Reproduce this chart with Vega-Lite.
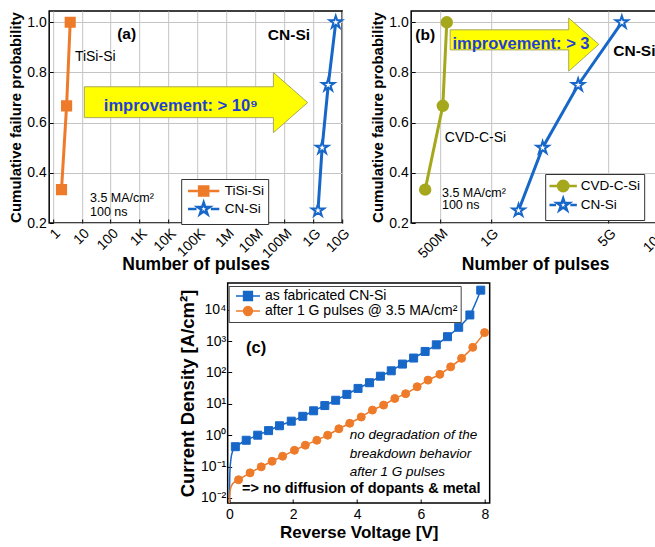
{
  "$schema": "https://vega.github.io/schema/vega-lite/v6.json",
  "background": "white",
  "padding": {"left": 7, "top": 10, "right": 2, "bottom": 2},
  "config": {
    "font": "Liberation Sans",
    "view": {"stroke": "black", "strokeWidth": 1.5},
    "axis": {"labelFont": "Liberation Sans", "labelFontSize": 14, "labelColor": "black", "titleFont": "Liberation Sans", "titleFontWeight": "bold", "titleColor": "black", "domain": false, "tickColor": "black", "tickSize": -4, "tickWidth": 1, "labelPadding": 7, "titlePadding": 3, "gridColor": "#c4c4c4", "gridWidth": 1, "gridOpacity": 1, "labelFlush": false, "labelOverlap": false},
    "legend": {"labelFont": "Liberation Sans", "labelColor": "black", "labelLimit": 400}
  },
  "datasets": {
    "a_pts": [
      {"series": "TiSi-Si", "pulses": 2, "prob": 0.333},
      {"series": "TiSi-Si", "pulses": 3, "prob": 0.667},
      {"series": "TiSi-Si", "pulses": 4, "prob": 1.0},
      {"series": "CN-Si", "pulses": 1.46e9, "prob": 0.25},
      {"series": "CN-Si", "pulses": 2.03e9, "prob": 0.5},
      {"series": "CN-Si", "pulses": 3.3e9, "prob": 0.75},
      {"series": "CN-Si", "pulses": 6.0e9, "prob": 1.0}
    ],
    "b_pts": [
      {"series": "CVD-C-Si", "pulses": 4.07e8, "prob": 0.333},
      {"series": "CVD-C-Si", "pulses": 5.18e8, "prob": 0.667},
      {"series": "CVD-C-Si", "pulses": 5.47e8, "prob": 1.0},
      {"series": "CN-Si", "pulses": 1.46e9, "prob": 0.25},
      {"series": "CN-Si", "pulses": 2.03e9, "prob": 0.5},
      {"series": "CN-Si", "pulses": 3.3e9, "prob": 0.75},
      {"series": "CN-Si", "pulses": 6.0e9, "prob": 1.0}
    ],
    "a_arrow": [
      {"pulses": 12.3, "prob": 0.62, "hi": 0.743},
      {"pulses": 4.2e7, "prob": 0.62, "hi": 0.743},
      {"pulses": 4.2e7, "prob": 0.56, "hi": 0.80},
      {"pulses": 6.4e8, "prob": 0.68, "hi": 0.68}
    ],
    "b_arrow": [
      {"pulses": 5.73e8, "prob": 0.89, "hi": 0.97},
      {"pulses": 2.9e9, "prob": 0.89, "hi": 0.97},
      {"pulses": 2.9e9, "prob": 0.805, "hi": 1.017},
      {"pulses": 4.38e9, "prob": 0.912, "hi": 0.912}
    ],
    "c_pts": [
      {"series": "as fabricated CN-Si", "V": 0.19, "J": 0.43},
      {"series": "as fabricated CN-Si", "V": 0.53, "J": 0.69},
      {"series": "as fabricated CN-Si", "V": 0.89, "J": 1.0},
      {"series": "as fabricated CN-Si", "V": 1.23, "J": 1.4},
      {"series": "as fabricated CN-Si", "V": 1.57, "J": 2.0},
      {"series": "as fabricated CN-Si", "V": 1.94, "J": 2.8},
      {"series": "as fabricated CN-Si", "V": 2.30, "J": 4.0},
      {"series": "as fabricated CN-Si", "V": 2.64, "J": 6.0},
      {"series": "as fabricated CN-Si", "V": 2.99, "J": 8.8},
      {"series": "as fabricated CN-Si", "V": 3.33, "J": 13},
      {"series": "as fabricated CN-Si", "V": 3.68, "J": 20},
      {"series": "as fabricated CN-Si", "V": 4.03, "J": 31},
      {"series": "as fabricated CN-Si", "V": 4.39, "J": 47},
      {"series": "as fabricated CN-Si", "V": 4.73, "J": 76},
      {"series": "as fabricated CN-Si", "V": 5.07, "J": 113},
      {"series": "as fabricated CN-Si", "V": 5.42, "J": 185},
      {"series": "as fabricated CN-Si", "V": 5.77, "J": 288},
      {"series": "as fabricated CN-Si", "V": 6.13, "J": 468},
      {"series": "as fabricated CN-Si", "V": 6.48, "J": 760},
      {"series": "as fabricated CN-Si", "V": 6.83, "J": 1380},
      {"series": "as fabricated CN-Si", "V": 7.18, "J": 2750},
      {"series": "as fabricated CN-Si", "V": 7.53, "J": 6800},
      {"series": "as fabricated CN-Si", "V": 7.87, "J": 42000},
      {"series": "after 1 G pulses @ 3.5 MA/cm²", "V": 0.29, "J": 0.038},
      {"series": "after 1 G pulses @ 3.5 MA/cm²", "V": 0.65, "J": 0.063},
      {"series": "after 1 G pulses @ 3.5 MA/cm²", "V": 1.00, "J": 0.098},
      {"series": "after 1 G pulses @ 3.5 MA/cm²", "V": 1.34, "J": 0.148},
      {"series": "after 1 G pulses @ 3.5 MA/cm²", "V": 1.67, "J": 0.214},
      {"series": "after 1 G pulses @ 3.5 MA/cm²", "V": 2.04, "J": 0.33},
      {"series": "after 1 G pulses @ 3.5 MA/cm²", "V": 2.38, "J": 0.48},
      {"series": "after 1 G pulses @ 3.5 MA/cm²", "V": 2.74, "J": 0.69},
      {"series": "after 1 G pulses @ 3.5 MA/cm²", "V": 3.08, "J": 1.0},
      {"series": "after 1 G pulses @ 3.5 MA/cm²", "V": 3.43, "J": 1.6},
      {"series": "after 1 G pulses @ 3.5 MA/cm²", "V": 3.77, "J": 2.4},
      {"series": "after 1 G pulses @ 3.5 MA/cm²", "V": 4.13, "J": 3.8},
      {"series": "after 1 G pulses @ 3.5 MA/cm²", "V": 4.48, "J": 6.3},
      {"series": "after 1 G pulses @ 3.5 MA/cm²", "V": 4.83, "J": 9.1},
      {"series": "after 1 G pulses @ 3.5 MA/cm²", "V": 5.18, "J": 14.8},
      {"series": "after 1 G pulses @ 3.5 MA/cm²", "V": 5.52, "J": 21},
      {"series": "after 1 G pulses @ 3.5 MA/cm²", "V": 5.88, "J": 35},
      {"series": "after 1 G pulses @ 3.5 MA/cm²", "V": 6.22, "J": 57},
      {"series": "after 1 G pulses @ 3.5 MA/cm²", "V": 6.59, "J": 87},
      {"series": "after 1 G pulses @ 3.5 MA/cm²", "V": 6.93, "J": 151},
      {"series": "after 1 G pulses @ 3.5 MA/cm²", "V": 7.27, "J": 282},
      {"series": "after 1 G pulses @ 3.5 MA/cm²", "V": 7.62, "J": 630},
      {"series": "after 1 G pulses @ 3.5 MA/cm²", "V": 7.99, "J": 1860}
    ],
    "c_start": [
      {"series": "as fabricated CN-Si", "V": 0.0, "J": 0.005},
      {"series": "as fabricated CN-Si", "V": 0.02, "J": 0.07},
      {"series": "as fabricated CN-Si", "V": 0.06, "J": 0.2},
      {"series": "as fabricated CN-Si", "V": 0.1, "J": 0.3},
      {"series": "as fabricated CN-Si", "V": 0.19, "J": 0.43},
      {"series": "after 1 G pulses @ 3.5 MA/cm²", "V": 0.0, "J": 0.005},
      {"series": "after 1 G pulses @ 3.5 MA/cm²", "V": 0.03, "J": 0.018},
      {"series": "after 1 G pulses @ 3.5 MA/cm²", "V": 0.1, "J": 0.028},
      {"series": "after 1 G pulses @ 3.5 MA/cm²", "V": 0.29, "J": 0.038}
    ]
  },
  "center": true,
  "spacing": 8,
  "resolve": {"scale": {"x": "independent", "y": "independent", "fill": "independent", "stroke": "independent", "shape": "independent", "color": "independent"}, "legend": {"fill": "independent", "stroke": "independent", "shape": "independent", "color": "independent"}},
  "vconcat": [
    {
      "spacing": 16,
      "resolve": {"scale": {"x": "independent", "y": "independent", "fill": "independent", "stroke": "independent", "shape": "independent", "color": "independent"}, "legend": {"fill": "independent", "stroke": "independent", "shape": "independent", "color": "independent"}},
      "hconcat": [
        {
          "width": 293,
          "height": 212,
          "resolve": {"scale": {"stroke": "independent", "fill": "independent", "shape": "independent"}, "legend": {"stroke": "independent", "fill": "independent", "shape": "independent"}},
          "encoding": {
            "x": {"field": "pulses", "type": "quantitative", "scale": {"type": "log", "domain": [0.75, 1e10], "nice": false},
              "axis": {"title": "Number of pulses", "titleFontSize": 17.5, "values": [1, 10, 100, 1000, 10000, 100000, 1000000, 10000000, 100000000, 1000000000, 10000000000], "labelExpr": "['1','10','100','1K','10K','100K','1M','10M','100M','1G','10G'][round(log(datum.value)/LN10)]", "labelAngle": -45, "labelAlign": "right", "labelBaseline": "top", "labelPadding": 7, "titlePadding": -5, "grid": true}},
            "y": {"field": "prob", "type": "quantitative", "scale": {"domain": [0.2, 1.045], "nice": false, "zero": false},
              "axis": {"title": "Cumulative failure probability", "titleFontSize": 15, "values": [0.2, 0.4, 0.6, 0.8, 1.0], "format": ".1f", "grid": true, "labelPadding": 7, "titlePadding": 3}}
          },
          "layer": [
            {
              "data": {"name": "a_arrow"},
              "mark": {"type": "area", "fill": "#FFFF00", "stroke": "#A8A860", "strokeWidth": 1, "opacity": 1},
              "encoding": {"y2": {"field": "hi"}}
            },
            {
              "data": {"name": "a_pts"},
              "mark": {"type": "line", "strokeWidth": 3},
              "encoding": {
                "stroke": {"field": "series", "type": "nominal", "scale": {"domain": ["TiSi-Si", "CN-Si"], "range": ["#EE7B2A", "#1767C8"]}, "legend": null}
              }
            },
            {
              "data": {"name": "a_pts"},
              "mark": {"type": "point", "strokeWidth": 2, "opacity": 1, "size": 170},
              "encoding": {
                "stroke": {"field": "series", "type": "nominal", "scale": {"domain": ["TiSi-Si", "CN-Si"], "range": ["#EE7B2A", "#1767C8"]}, "legend": null},
                "fill": {"field": "series", "type": "nominal", "scale": {"domain": ["TiSi-Si", "CN-Si"], "range": ["#EE7B2A", "#ffffff"]}, "legend": null},
                "shape": {"field": "series", "type": "nominal", "scale": {"domain": ["TiSi-Si", "CN-Si"], "range": ["M-0.7,-0.7H0.7V0.7H-0.7Z", "M0,-1L0.224,-0.309L0.951,-0.309L0.363,0.118L0.588,0.809L0,0.382L-0.588,0.809L-0.363,0.118L-0.951,-0.309L-0.224,-0.309Z"]}, "legend": null}
              }
            },
            {
              "data": {"name": "a_pts"},
              "transform": [{"filter": "false"}],
              "mark": {"type": "point", "strokeWidth": 2.5, "opacity": 1, "size": 170},
              "encoding": {
                "stroke": {"field": "series", "type": "nominal", "scale": {"domain": ["TiSi-Si", "CN-Si"], "range": ["#EE7B2A", "#1767C8"]},
                  "legend": {"title": null, "orient": "none", "legendX": 132, "legendY": 168, "fillColor": "white", "strokeColor": "#333333", "padding": 4, "labelFontSize": 13.5, "symbolSize": 170, "symbolStrokeWidth": 2.5, "symbolOffset": 10.5, "labelOffset": 13, "rowPadding": -8}},
                "fill": {"field": "series", "type": "nominal", "scale": {"domain": ["TiSi-Si", "CN-Si"], "range": ["#EE7B2A", "#ffffff"]},
                  "legend": {"title": null, "orient": "none", "legendX": 132, "legendY": 168, "fillColor": "white", "strokeColor": "#333333", "padding": 4, "labelFontSize": 13.5, "symbolSize": 170, "symbolStrokeWidth": 2.5, "symbolOffset": 10.5, "labelOffset": 13, "rowPadding": -8}},
                "shape": {"field": "series", "type": "nominal", "scale": {"domain": ["TiSi-Si", "CN-Si"], "range": ["M-2.4,0H-0.9M0.9,0H2.4M-0.7,-0.7H0.7V0.7H-0.7Z", "M-2.4,0H-1.1M1.1,0H2.4M0,-1L0.224,-0.309L0.951,-0.309L0.363,0.118L0.588,0.809L0,0.382L-0.588,0.809L-0.363,0.118L-0.951,-0.309L-0.224,-0.309Z"]},
                  "legend": {"title": null, "orient": "none", "legendX": 132, "legendY": 168, "fillColor": "white", "strokeColor": "#333333", "padding": 4, "labelFontSize": 13.5, "symbolSize": 170, "symbolStrokeWidth": 2.5, "symbolOffset": 10.5, "labelOffset": 13, "rowPadding": -8}}
              }
            },
            {
              "data": {"values": [{"pulses": 5.8, "prob": 0.86, "label": "TiSi-Si"}]},
              "mark": {"type": "text", "align": "left", "baseline": "middle", "fontSize": 14, "color": "black"},
              "encoding": {"text": {"field": "label"}}
            },
            {
              "data": {"values": [{"pulses": 19.3, "prob": 0.30, "label": "3.5 MA/cm²"}, {"pulses": 19.3, "prob": 0.245, "label": "100 ns"}]},
              "mark": {"type": "text", "align": "left", "baseline": "middle", "fontSize": 12.5, "color": "black"},
              "encoding": {"text": {"field": "label"}}
            },
            {
              "data": {"values": [{"pulses": 357, "prob": 0.955, "label": "(a)"}, {"pulses": 1.45e8, "prob": 0.951, "label": "CN-Si"}]},
              "mark": {"type": "text", "align": "center", "baseline": "middle", "fontSize": 15.5, "fontWeight": "bold", "color": "black"},
              "encoding": {"text": {"field": "label"}}
            },
            {
              "data": {"values": [{"pulses": 26700, "prob": 0.667, "label": "improvement: > 10⁹"}]},
              "mark": {"type": "text", "align": "center", "baseline": "middle", "fontSize": 16.5, "fontWeight": "bold", "color": "#1f3fd6"},
              "encoding": {"text": {"field": "label"}}
            }
          ]
        },
        {
          "width": 248,
          "height": 212,
          "resolve": {"scale": {"stroke": "independent", "fill": "independent", "shape": "independent"}, "legend": {"stroke": "independent", "fill": "independent", "shape": "independent"}},
          "encoding": {
            "x": {"field": "pulses", "type": "quantitative", "scale": {"type": "log", "domain": [3.36e8, 1e10], "nice": false},
              "axis": {"title": "Number of pulses", "titleFontSize": 17.5, "values": [500000000, 1000000000, 5000000000, 10000000000], "labelExpr": "datum.value >= 1e9 ? format(datum.value/1e9, 'd') + 'G' : format(datum.value/1e6, 'd') + 'M'", "labelAngle": -45, "labelAlign": "right", "labelBaseline": "top", "labelPadding": 7, "titlePadding": -5, "grid": true}},
            "y": {"field": "prob", "type": "quantitative", "scale": {"domain": [0.2, 1.045], "nice": false, "zero": false},
              "axis": {"title": "Cumulative failure probability", "titleFontSize": 15, "values": [0.2, 0.4, 0.6, 0.8, 1.0], "format": ".1f", "grid": true, "labelPadding": 7, "titlePadding": 3}}
          },
          "layer": [
            {
              "data": {"name": "b_arrow"},
              "mark": {"type": "area", "fill": "#FFFF00", "stroke": "#A8A860", "strokeWidth": 1, "opacity": 1},
              "encoding": {"y2": {"field": "hi"}}
            },
            {
              "data": {"name": "b_pts"},
              "mark": {"type": "line", "strokeWidth": 3},
              "encoding": {
                "stroke": {"field": "series", "type": "nominal", "scale": {"domain": ["CVD-C-Si", "CN-Si"], "range": ["#A5A81C", "#1767C8"]}, "legend": null}
              }
            },
            {
              "data": {"name": "b_pts"},
              "mark": {"type": "point", "strokeWidth": 2, "opacity": 1, "size": 170},
              "encoding": {
                "stroke": {"field": "series", "type": "nominal", "scale": {"domain": ["CVD-C-Si", "CN-Si"], "range": ["#A5A81C", "#1767C8"]}, "legend": null},
                "fill": {"field": "series", "type": "nominal", "scale": {"domain": ["CVD-C-Si", "CN-Si"], "range": ["#A5A81C", "#ffffff"]}, "legend": null},
                "shape": {"field": "series", "type": "nominal", "scale": {"domain": ["CVD-C-Si", "CN-Si"], "range": ["M-0.8,0A0.8,0.8 0 1,0 0.8,0A0.8,0.8 0 1,0 -0.8,0Z", "M0,-1L0.224,-0.309L0.951,-0.309L0.363,0.118L0.588,0.809L0,0.382L-0.588,0.809L-0.363,0.118L-0.951,-0.309L-0.224,-0.309Z"]}, "legend": null}
              }
            },
            {
              "data": {"name": "b_pts"},
              "transform": [{"filter": "false"}],
              "mark": {"type": "point", "strokeWidth": 2.5, "opacity": 1, "size": 170},
              "encoding": {
                "stroke": {"field": "series", "type": "nominal", "scale": {"domain": ["CVD-C-Si", "CN-Si"], "range": ["#A5A81C", "#1767C8"]},
                  "legend": {"title": null, "orient": "none", "legendX": 134, "legendY": 163, "fillColor": "white", "strokeColor": "#333333", "padding": 4, "labelFontSize": 13.5, "symbolSize": 170, "symbolStrokeWidth": 2.5, "symbolOffset": 6, "labelOffset": 9.5, "rowPadding": -5}},
                "fill": {"field": "series", "type": "nominal", "scale": {"domain": ["CVD-C-Si", "CN-Si"], "range": ["#A5A81C", "#ffffff"]},
                  "legend": {"title": null, "orient": "none", "legendX": 134, "legendY": 163, "fillColor": "white", "strokeColor": "#333333", "padding": 4, "labelFontSize": 13.5, "symbolSize": 170, "symbolStrokeWidth": 2.5, "symbolOffset": 6, "labelOffset": 9.5, "rowPadding": -5}},
                "shape": {"field": "series", "type": "nominal", "scale": {"domain": ["CVD-C-Si", "CN-Si"], "range": ["M-2.1,0H-0.9M0.9,0H2.1M-0.8,0A0.8,0.8 0 1,0 0.8,0A0.8,0.8 0 1,0 -0.8,0Z", "M-2.1,0H-1.1M1.1,0H2.1M0,-1L0.224,-0.309L0.951,-0.309L0.363,0.118L0.588,0.809L0,0.382L-0.588,0.809L-0.363,0.118L-0.951,-0.309L-0.224,-0.309Z"]},
                  "legend": {"title": null, "orient": "none", "legendX": 134, "legendY": 163, "fillColor": "white", "strokeColor": "#333333", "padding": 4, "labelFontSize": 13.5, "symbolSize": 170, "symbolStrokeWidth": 2.5, "symbolOffset": 6, "labelOffset": 9.5, "rowPadding": -5}}
              }
            },
            {
              "data": {"values": [{"pulses": 8.1e8, "prob": 0.539, "label": "CVD-C-Si"}]},
              "mark": {"type": "text", "align": "center", "baseline": "middle", "fontSize": 14, "color": "black"},
              "encoding": {"text": {"field": "label"}}
            },
            {
              "data": {"values": [{"pulses": 5.12e8, "prob": 0.32, "label": "3.5 MA/cm²"}, {"pulses": 5.12e8, "prob": 0.273, "label": "100 ns"}]},
              "mark": {"type": "text", "align": "left", "baseline": "middle", "fontSize": 12.5, "color": "black"},
              "encoding": {"text": {"field": "label"}}
            },
            {
              "data": {"values": [{"pulses": 4.07e8, "prob": 0.951, "label": "(b)"}, {"pulses": 7.12e9, "prob": 0.884, "label": "CN-Si"}]},
              "mark": {"type": "text", "align": "center", "baseline": "middle", "fontSize": 15.5, "fontWeight": "bold", "color": "black"},
              "encoding": {"text": {"field": "label"}}
            },
            {
              "data": {"values": [{"pulses": 1.51e9, "prob": 0.914, "label": "improvement: > 3"}]},
              "mark": {"type": "text", "align": "center", "baseline": "middle", "fontSize": 16.5, "fontWeight": "bold", "color": "#1f3fd6"},
              "encoding": {"text": {"field": "label"}}
            }
          ]
        }
      ]
    },
    {
      "width": 262,
      "height": 220,
      "resolve": {"scale": {"stroke": "independent", "fill": "independent", "shape": "independent"}, "legend": {"stroke": "independent", "fill": "independent", "shape": "independent"}},
      "encoding": {
        "x": {"field": "V", "type": "quantitative", "scale": {"domain": [-0.05, 8.15], "nice": false, "zero": false},
          "axis": {"title": "Reverse Voltage [V]", "titleFontSize": 17, "values": [0, 2, 4, 6, 8], "grid": false, "labelPadding": 8, "titlePadding": 3}},
        "y": {"field": "J", "type": "quantitative", "scale": {"type": "log", "domain": [0.0069, 71000], "nice": false},
          "axis": {"title": "Current Density [A/cm²]", "titleFontSize": 18.5, "values": [0.01, 0.1, 1, 10, 100, 1000, 10000], "labelExpr": "['10⁻²','10⁻¹','10⁰','10¹','10²','10³','10⁴'][round(log(datum.value)/LN10)+2]", "grid": false, "labelPadding": 6, "titlePadding": 3}}
      },
      "layer": [
        {
          "data": {"name": "c_pts"},
          "mark": {"type": "line", "strokeWidth": 1.5, "interpolate": "monotone", "clip": true},
          "encoding": {
            "stroke": {"field": "series", "type": "nominal", "scale": {"domain": ["as fabricated CN-Si", "after 1 G pulses @ 3.5 MA/cm²"], "range": ["#1767C8", "#EE7B2A"]}, "legend": null}
          }
        },
        {
          "data": {"name": "c_start"},
          "mark": {"type": "line", "strokeWidth": 1.5, "interpolate": "monotone", "clip": true},
          "encoding": {
            "stroke": {"field": "series", "type": "nominal", "scale": {"domain": ["as fabricated CN-Si", "after 1 G pulses @ 3.5 MA/cm²"], "range": ["#1767C8", "#EE7B2A"]}, "legend": null}
          }
        },
        {
          "data": {"name": "c_pts"},
          "mark": {"type": "point", "size": 64, "strokeWidth": 1, "opacity": 1},
          "encoding": {
            "stroke": {"field": "series", "type": "nominal", "scale": {"domain": ["as fabricated CN-Si", "after 1 G pulses @ 3.5 MA/cm²"], "range": ["#1767C8", "#EE7B2A"]}, "legend": null},
            "fill": {"field": "series", "type": "nominal", "scale": {"domain": ["as fabricated CN-Si", "after 1 G pulses @ 3.5 MA/cm²"], "range": ["#1767C8", "#EE7B2A"]}, "legend": null},
            "shape": {"field": "series", "type": "nominal", "scale": {"domain": ["as fabricated CN-Si", "after 1 G pulses @ 3.5 MA/cm²"], "range": ["square", "circle"]}, "legend": null}
          }
        },
        {
          "data": {"name": "c_pts"},
          "transform": [{"filter": "false"}],
          "mark": {"type": "point", "size": 64, "strokeWidth": 1.5, "opacity": 1},
          "encoding": {
            "stroke": {"field": "series", "type": "nominal", "scale": {"domain": ["as fabricated CN-Si", "after 1 G pulses @ 3.5 MA/cm²"], "range": ["#1767C8", "#EE7B2A"]},
              "legend": {"title": null, "orient": "none", "legendX": 1, "legendY": 3, "fillColor": "white", "strokeColor": "#444444", "padding": 3, "labelFontSize": 14, "symbolSize": 64, "symbolStrokeWidth": 1.5, "symbolOffset": 9.3, "labelOffset": 10, "rowPadding": -4}},
            "fill": {"field": "series", "type": "nominal", "scale": {"domain": ["as fabricated CN-Si", "after 1 G pulses @ 3.5 MA/cm²"], "range": ["#1767C8", "#EE7B2A"]},
              "legend": {"title": null, "orient": "none", "legendX": 1, "legendY": 3, "fillColor": "white", "strokeColor": "#444444", "padding": 3, "labelFontSize": 14, "symbolSize": 64, "symbolStrokeWidth": 1.5, "symbolOffset": 9.3, "labelOffset": 10, "rowPadding": -4}},
            "shape": {"field": "series", "type": "nominal", "scale": {"domain": ["as fabricated CN-Si", "after 1 G pulses @ 3.5 MA/cm²"], "range": ["M-3,0H3M-1.1,-1.1H1.1V1.1H-1.1Z", "M-3,0H3M-1.1,0A1.1,1.1 0 1,0 1.1,0A1.1,1.1 0 1,0 -1.1,0Z"]},
              "legend": {"title": null, "orient": "none", "legendX": 1, "legendY": 3, "fillColor": "white", "strokeColor": "#444444", "padding": 3, "labelFontSize": 14, "symbolSize": 64, "symbolStrokeWidth": 1.5, "symbolOffset": 9.3, "labelOffset": 10, "rowPadding": -4}}
          }
        },
        {
          "data": {"values": [{"V": 0.84, "J": 585, "label": "(c)"}]},
          "mark": {"type": "text", "align": "center", "baseline": "middle", "fontSize": 16.5, "fontWeight": "bold", "color": "black"},
          "encoding": {"text": {"field": "label"}}
        },
        {
          "data": {"values": [{"V": 3.77, "J": 1.0, "label": "no degradation of the"}, {"V": 3.77, "J": 0.26, "label": "breakdown behavior"}, {"V": 3.77, "J": 0.068, "label": "after 1 G pulses"}]},
          "mark": {"type": "text", "align": "left", "baseline": "middle", "fontSize": 13.5, "fontStyle": "italic", "color": "black"},
          "encoding": {"text": {"field": "label"}}
        },
        {
          "data": {"values": [{"V": 0.40, "J": 0.02, "label": "=> no diffusion of dopants & metal"}]},
          "mark": {"type": "text", "align": "left", "baseline": "middle", "fontSize": 14.5, "fontWeight": "bold", "color": "black"},
          "encoding": {"text": {"field": "label"}}
        }
      ]
    }
  ]
}
